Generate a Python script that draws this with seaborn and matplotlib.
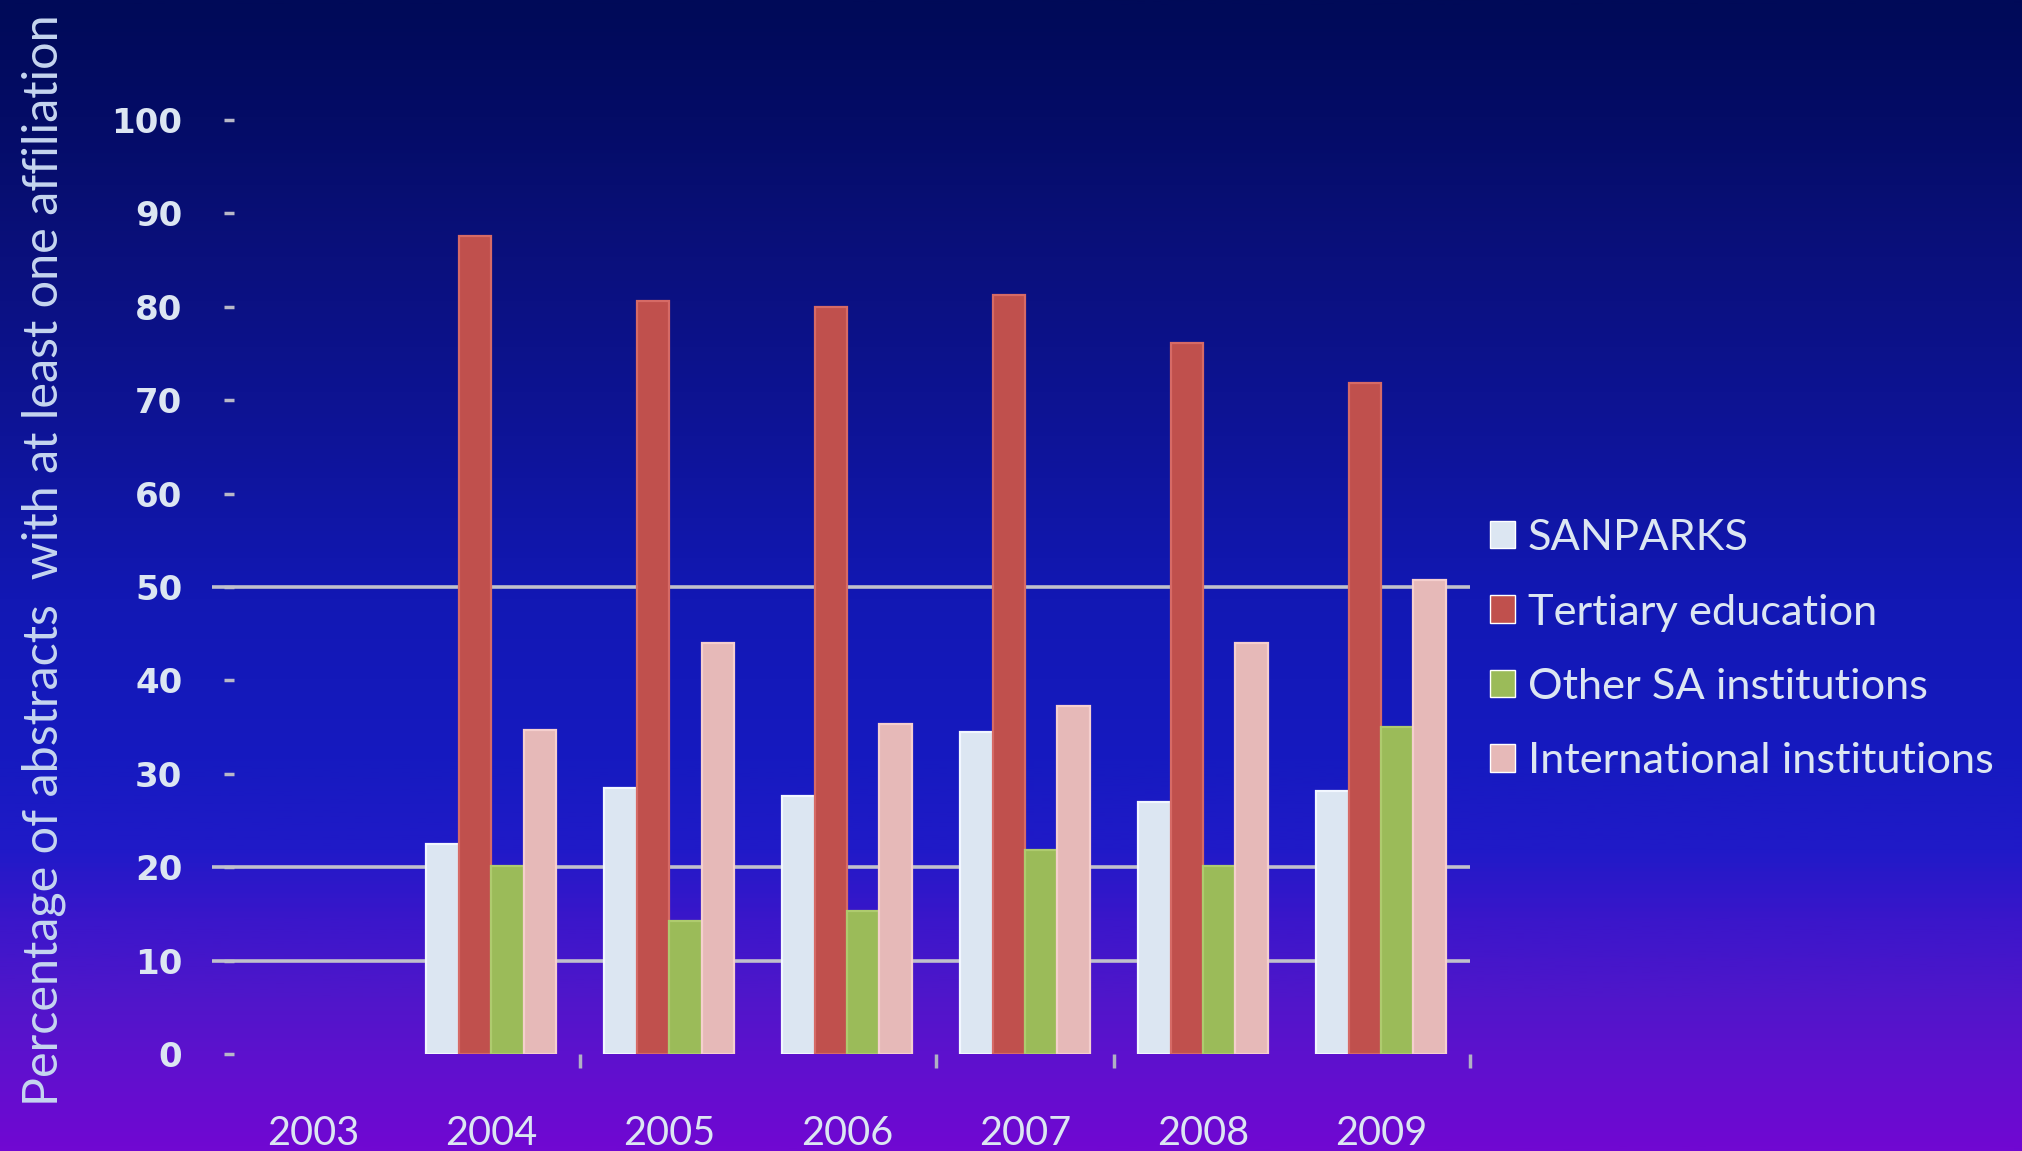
import numpy as np
import pandas as pd
import matplotlib
matplotlib.use("Agg")
import matplotlib.pyplot as plt
import seaborn as sns
from matplotlib import font_manager
from matplotlib.colors import LinearSegmentedColormap

# ---- data -------------------------------------------------------------
years = ["2003", "2004", "2005", "2006", "2007", "2008", "2009"]
sanparks = [0, 22.5, 28.5, 27.6, 34.5, 27.0, 28.2]
tertiary = [0, 87.6, 80.6, 80.0, 81.3, 76.1, 71.8]
other_sa = [0, 20.1, 14.2, 15.3, 21.8, 20.1, 35.0]
international = [0, 34.7, 44.0, 35.3, 37.3, 44.0, 50.7]

series_names = ["SANPARKS", "Tertiary education",
                "Other SA institutions", "International institutions"]
series_colors = ["#DCE6F2", "#C0504D", "#9BBB59", "#E6B9B8"]
edge_colors = ["#F2F7FF", "#D66A66", "#AECB6E", "#F5CFCE"]

y_ticks = [0, 10, 20, 30, 40, 50, 60, 70, 80, 90, 100]
grid_values = [10, 20, 50]
y_label = "Percentage of abstracts  with at least one affiliation"

# ---- fonts ------------------------------------------------------------
sns.set_style("white")
installed = {f.name for f in font_manager.fontManager.ttflist}


def pick(*names):
    for n in names:
        if n in installed:
            return n
    return "DejaVu Sans"


body_font = pick("Lato", "Open Sans", "Roboto", "Noto Sans")
narrow_font = pick("Liberation Sans Narrow", "Lato", "Roboto")
plt.rcParams["font.family"] = [body_font, "DejaVu Sans"]
text_color = "#DCE6F2"

# ---- long-form table --------------------------------------------------
values = [sanparks, tertiary, other_sa, international]
df = pd.DataFrame({
    "year": years * len(series_names),
    "series": np.repeat(series_names, len(years)),
    "value": np.concatenate(values),
})

fig = plt.figure(figsize=(20.22, 11.51), dpi=100)

# vertical background gradient: navy at the top, violet at the bottom
stops = [
    (0.00, (0, 10, 88)),
    (0.10, (4, 12, 102)),
    (0.22, (10, 16, 124)),
    (0.38, (14, 20, 152)),
    (0.52, (18, 24, 180)),
    (0.66, (22, 26, 192)),
    (0.74, (32, 26, 200)),
    (0.80, (58, 22, 202)),
    (0.87, (80, 22, 202)),
    (0.93, (96, 16, 206)),
    (1.00, (112, 8, 210)),
]
cmap = LinearSegmentedColormap.from_list(
    "bg", [(p, tuple(c / 255 for c in rgb)) for p, rgb in stops])
bg = fig.add_axes([0, 0, 1, 1], zorder=-5)
bg.imshow(np.linspace(0, 1, 600)[:, None], cmap=cmap, aspect="auto",
          extent=[0, 1, 0, 1], origin="upper")
bg.axis("off")

ax = fig.add_axes([0.1108, 0.0843, 0.6162, 0.8115])
ax.set_facecolor("none")

sns.barplot(data=df, x="year", y="value", hue="series",
            order=years, hue_order=series_names,
            palette=dict(zip(series_names, series_colors)),
            width=0.73, saturation=1, errorbar=None, ax=ax)

for container, ec in zip(ax.containers, edge_colors):
    for bar in container:
        if bar.get_height() > 0:
            bar.set_edgecolor(ec)
            bar.set_linewidth(1.6)
        else:
            bar.set_linewidth(0)
        bar.set_zorder(2)

ax.set_ylim(0, 100)
ax.set_xlim(-0.5, 6.5)
ax.hlines(grid_values, -0.57, 6.5, colors="#C0C0CC", linewidth=2.6,
          zorder=1, clip_on=False)

for s in ax.spines.values():
    s.set_visible(False)

# y axis
ax.set_yticks(y_ticks)
ax.set_yticklabels([str(v) for v in y_ticks], family="DejaVu Sans",
                   fontweight="bold", fontsize=24.5, color=text_color)
ax.tick_params(axis="y", direction="in", length=7, width=2.5,
               color="#B8B8C8", pad=30, left=True)

# x axis
ax.set_xticks(range(len(years)))
ax.set_xticklabels(years, fontsize=28.5, color=text_color)
ax.tick_params(axis="x", length=0, pad=44)
ax.set_xticks([1.5, 3.5, 4.5, 6.5], minor=True)
ax.tick_params(axis="x", which="minor", direction="out", length=10,
               width=2.5, color="#B0B0C4", bottom=True)
ax.set_xlabel("")

# y label sized to its run along the left edge
renderer = fig.canvas.get_renderer()


def width_at(text, size, **kw):
    t = fig.text(0, 0, text, fontsize=size, **kw)
    w = t.get_window_extent(renderer=renderer).width
    t.remove()
    return w


label_size = 20 * 1096 / width_at(y_label, 20, family=narrow_font)
ax.set_ylabel(y_label, fontsize=label_size, color="#C6D6F0",
              family=narrow_font)
ax.yaxis.label.set_va("center")
ax.yaxis.set_label_coords(-0.1445, 0.529)

# legend
legend_size = 20 * 469 / width_at(series_names[-1], 20)
em = legend_size * 100 / 72
handles, labels = ax.get_legend_handles_labels()
ax.legend(handles, labels, loc="center left",
          bbox_to_anchor=(0.7369, 0.4355), bbox_transform=fig.transFigure,
          frameon=False, fontsize=legend_size, labelcolor=text_color,
          handlelength=25 / em, handleheight=26 / em,
          handletextpad=13 / em, labelspacing=0.84, borderpad=0,
          borderaxespad=0)

fig.savefig("out.png", dpi=100)
